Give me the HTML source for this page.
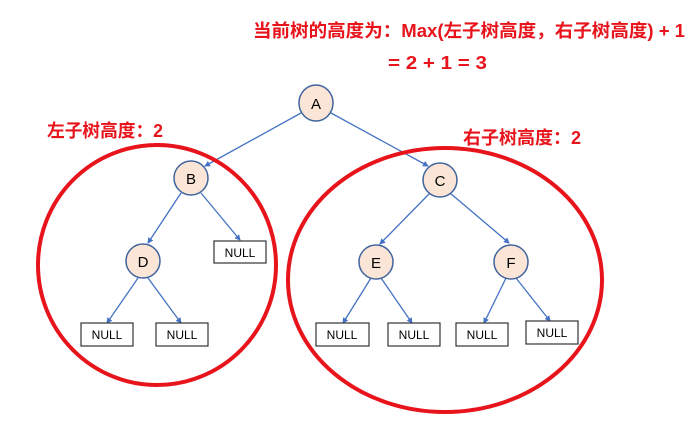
<!DOCTYPE html>
<html><head><meta charset="utf-8"><style>
html,body{margin:0;padding:0;background:#fff;}
svg{display:block;}
.t{font-family:"Liberation Sans","Noto Sans CJK SC",sans-serif;font-weight:bold;fill:#e8141c;}
.n{font-family:"Liberation Sans",sans-serif;font-size:15px;fill:#000;}
.b{font-family:"Liberation Sans",sans-serif;font-size:12px;fill:#000;}
</style></head><body>
<svg width="699" height="431" viewBox="0 0 699 431" xmlns="http://www.w3.org/2000/svg">
<defs><marker id="ar" markerWidth="6" markerHeight="6" refX="5" refY="3" orient="auto" markerUnits="userSpaceOnUse"><path d="M0,0 L6,3 L0,6 z" fill="#4472c4"/></marker></defs>
<text class="t" x="253" y="37" font-size="18" textLength="432" lengthAdjust="spacingAndGlyphs">当前树的高度为：Max(左子树高度，右子树高度) + 1</text>
<text class="t" x="388" y="69" font-size="18" textLength="99" lengthAdjust="spacingAndGlyphs">= 2 + 1 = 3</text>
<text class="t" x="47" y="137" font-size="18" textLength="116" lengthAdjust="spacingAndGlyphs">左子树高度：2</text>
<text class="t" x="463" y="144" font-size="18" textLength="118" lengthAdjust="spacingAndGlyphs">右子树高度：2</text>
<g stroke="#4472c4" stroke-width="1.3" fill="none" marker-end="url(#ar)">
<line x1="301" y1="113" x2="205" y2="166"/>
<line x1="331" y1="113" x2="428" y2="166"/>
<line x1="181" y1="193" x2="148" y2="243"/>
<line x1="201" y1="193" x2="240" y2="240"/>
<line x1="430" y1="193" x2="380" y2="244"/>
<line x1="450" y1="193" x2="509" y2="243"/>
<line x1="138" y1="278" x2="107" y2="323"/>
<line x1="148" y1="278" x2="181" y2="323"/>
<line x1="371" y1="278" x2="343" y2="323"/>
<line x1="381" y1="278" x2="412" y2="323"/>
<line x1="506" y1="278" x2="484" y2="323"/>
<line x1="516" y1="278" x2="550" y2="321"/>
</g>
<g fill="#fbe5d6" stroke="#41649e" stroke-width="1.5">
<ellipse cx="316" cy="103" rx="17" ry="18"/>
<ellipse cx="191" cy="178" rx="17" ry="17"/>
<ellipse cx="440" cy="180" rx="17" ry="17"/>
<ellipse cx="143" cy="261" rx="17" ry="17"/>
<ellipse cx="376" cy="262" rx="17" ry="17"/>
<ellipse cx="511" cy="262" rx="17" ry="17"/>
</g>
<g text-anchor="middle">
<text class="n" x="316" y="109">A</text>
<text class="n" x="191" y="184">B</text>
<text class="n" x="440" y="186">C</text>
<text class="n" x="143" y="267">D</text>
<text class="n" x="376" y="268">E</text>
<text class="n" x="511" y="268">F</text>
</g>
<g fill="#fff" stroke="#333" stroke-width="1.2">
<rect x="214" y="241" width="52" height="22"/>
<rect x="81" y="323" width="52" height="23"/>
<rect x="156" y="323" width="52" height="23"/>
<rect x="316" y="323" width="53" height="23"/>
<rect x="388" y="323" width="52" height="23"/>
<rect x="456" y="323" width="52" height="23"/>
<rect x="526" y="321" width="52" height="23"/>
</g>
<g text-anchor="middle">
<text class="b" x="240" y="257">NULL</text>
<text class="b" x="107" y="339">NULL</text>
<text class="b" x="182" y="339">NULL</text>
<text class="b" x="342" y="339">NULL</text>
<text class="b" x="414" y="339">NULL</text>
<text class="b" x="482" y="339">NULL</text>
<text class="b" x="552" y="337">NULL</text>
</g>
<g fill="none" stroke="#e8141c" stroke-width="4">
<ellipse cx="157" cy="265" rx="119" ry="120"/>
<ellipse cx="445" cy="280" rx="157" ry="132"/>
</g>
</svg>
</body></html>
